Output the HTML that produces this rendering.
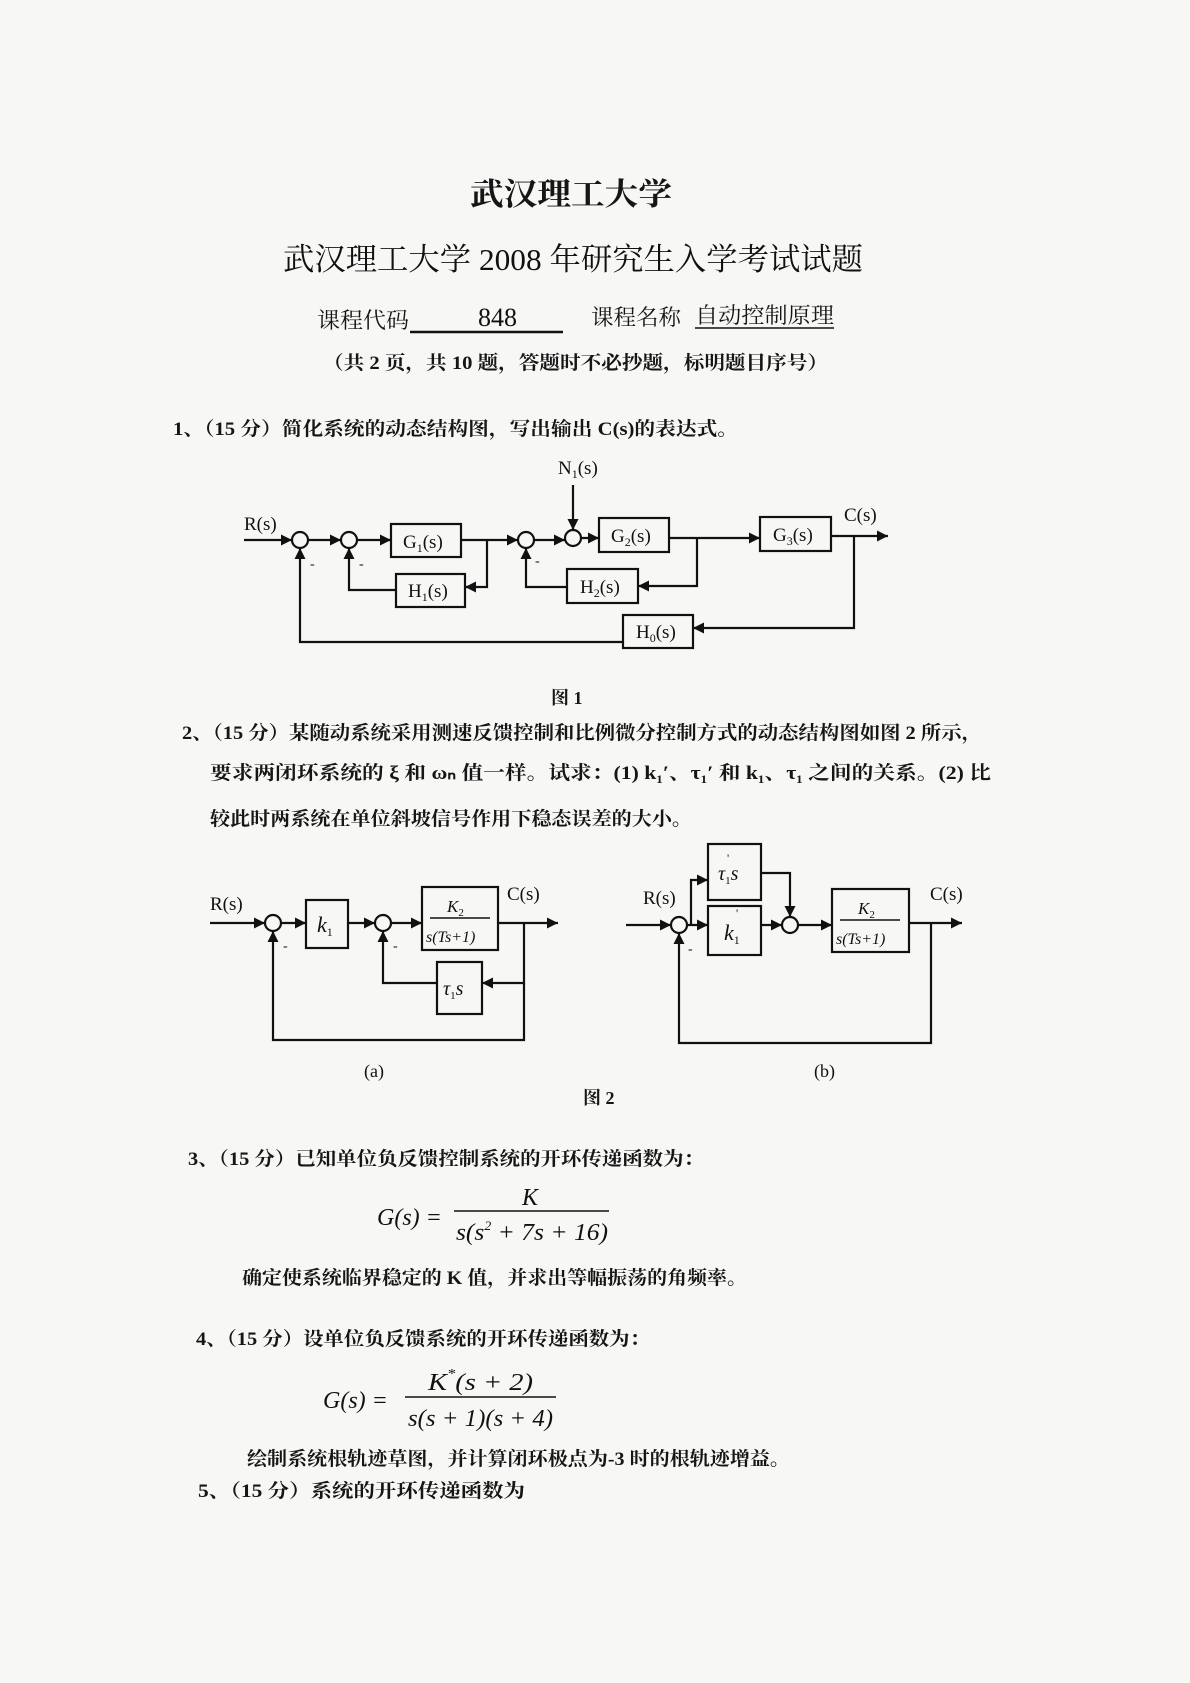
<!DOCTYPE html>
<html><head><meta charset="utf-8">
<style>
html,body{margin:0;padding:0;background:#f7f7f5;}
svg{display:block}
.cn{font-family:"Liberation Serif","Noto Serif CJK SC",serif;font-weight:bold;fill:#161616}
.lt{font-family:"Liberation Serif",serif;fill:#111}
.it{font-family:"Liberation Serif",serif;font-style:italic;fill:#111}
</style></head>
<body>
<svg width="1190" height="1683" viewBox="0 0 1190 1683" xmlns="http://www.w3.org/2000/svg">
<defs>
<marker id="a" viewBox="0 0 10 10" refX="10" refY="5" markerWidth="11" markerHeight="11" markerUnits="userSpaceOnUse" orient="auto">
<path d="M0,0 L10,5 L0,10 z" fill="#111"/></marker>
</defs>
<rect width="1190" height="1683" fill="#f7f7f5"/>

<!-- header -->
<text class="cn" x="470" y="205" font-size="31" textLength="202" lengthAdjust="spacingAndGlyphs">武汉理工大学</text>
<text class="cn" x="283" y="270" font-size="31" textLength="580" lengthAdjust="spacingAndGlyphs" style="font-weight:normal;fill:#111">武汉理工大学 2008 年研究生入学考试试题</text>
<text class="cn" x="317" y="328" font-size="22" textLength="92" lengthAdjust="spacingAndGlyphs" style="font-weight:normal">课程代码</text>
<line x1="410" y1="332" x2="563" y2="332" stroke="#111" stroke-width="2.5"/>
<text class="lt" x="478" y="326" font-size="26">848</text>
<text class="cn" x="591" y="325" font-size="22" textLength="90" lengthAdjust="spacingAndGlyphs" style="font-weight:normal">课程名称</text>
<text class="cn" x="695" y="323" font-size="22" textLength="139" lengthAdjust="spacingAndGlyphs" style="font-weight:normal">自动控制原理</text>
<line x1="695" y1="328" x2="834" y2="328" stroke="#111" stroke-width="1.5"/>
<text class="cn" x="323" y="369" font-size="19" textLength="505" lengthAdjust="spacingAndGlyphs">（共 2 页，共 10 题，答题时不必抄题，标明题目序号）</text>

<!-- Q1 -->
<text class="cn" x="173" y="435" font-size="19" textLength="565" lengthAdjust="spacingAndGlyphs">1、（15 分）简化系统的动态结构图，写出输出 C(s)的表达式。</text>

<!-- Figure 1 -->
<g stroke="#111" stroke-width="2.2" fill="none">
<line x1="244" y1="540" x2="292" y2="540" marker-end="url(#a)"/>
<circle cx="300" cy="540" r="8"/>
<line x1="308" y1="540" x2="341" y2="540" marker-end="url(#a)"/>
<circle cx="349" cy="540" r="8"/>
<line x1="357" y1="540" x2="391" y2="540" marker-end="url(#a)"/>
<rect x="391" y="524" width="70" height="33"/>
<line x1="461" y1="540" x2="518" y2="540" marker-end="url(#a)"/>
<circle cx="526" cy="540" r="8"/>
<line x1="534" y1="540" x2="565" y2="540" marker-end="url(#a)"/>
<circle cx="573" cy="538" r="8"/>
<line x1="581" y1="538" x2="599" y2="538" marker-end="url(#a)"/>
<rect x="599" y="518" width="70" height="34"/>
<line x1="669" y1="538" x2="760" y2="538" marker-end="url(#a)"/>
<rect x="760" y="517" width="71" height="34"/>
<line x1="831" y1="536" x2="888" y2="536" marker-end="url(#a)"/>
<line x1="573" y1="485" x2="573" y2="530" marker-end="url(#a)"/>
<polyline points="487,540 487,587 465,587" marker-end="url(#a)"/>
<rect x="396" y="574" width="69" height="33"/>
<polyline points="396,590 349,590 349,548" marker-end="url(#a)"/>
<polyline points="697,538 697,586 638,586" marker-end="url(#a)"/>
<rect x="567" y="569" width="71" height="34"/>
<polyline points="567,587 526,587 526,548" marker-end="url(#a)"/>
<polyline points="854,536 854,628 693,628" marker-end="url(#a)"/>
<rect x="623" y="615" width="70" height="33"/>
<polyline points="623,642 300,642 300,548" marker-end="url(#a)"/>
</g>
<g class="lt" font-size="19">
<text x="244" y="530">R(s)</text>
<text x="844" y="521">C(s)</text>
<text x="558" y="474">N<tspan font-size="12" dy="4">1</tspan><tspan dy="-4">(s)</tspan></text>
<text x="403" y="548">G<tspan font-size="12" dy="4">1</tspan><tspan dy="-4">(s)</tspan></text>
<text x="611" y="542">G<tspan font-size="12" dy="4">2</tspan><tspan dy="-4">(s)</tspan></text>
<text x="773" y="541">G<tspan font-size="12" dy="4">3</tspan><tspan dy="-4">(s)</tspan></text>
<text x="408" y="597">H<tspan font-size="12" dy="4">1</tspan><tspan dy="-4">(s)</tspan></text>
<text x="580" y="593">H<tspan font-size="12" dy="4">2</tspan><tspan dy="-4">(s)</tspan></text>
<text x="636" y="638">H<tspan font-size="12" dy="4">0</tspan><tspan dy="-4">(s)</tspan></text>
<text x="310" y="568" font-size="14">-</text>
<text x="359" y="568" font-size="14">-</text>
<text x="535" y="565" font-size="14">-</text>
</g>
<text class="cn" x="551" y="704" font-size="18">图 1</text>

<!-- Q2 -->
<text class="cn" x="182" y="739" font-size="19" textLength="800" lengthAdjust="spacingAndGlyphs">2、（15 分）某随动系统采用测速反馈控制和比例微分控制方式的动态结构图如图 2 所示，</text>
<text class="cn" x="210" y="779" font-size="19" textLength="781" lengthAdjust="spacingAndGlyphs">要求两闭环系统的 ξ 和 ωₙ 值一样。试求：(1) k₁′、τ₁′ 和 k₁、τ₁ 之间的关系。(2) 比</text>
<text class="cn" x="210" y="825" font-size="19" textLength="482" lengthAdjust="spacingAndGlyphs">较此时两系统在单位斜坡信号作用下稳态误差的大小。</text>

<!-- Figure 2a -->
<g stroke="#111" stroke-width="2.2" fill="none">
<line x1="210" y1="923" x2="265" y2="923" marker-end="url(#a)"/>
<circle cx="273" cy="923" r="8"/>
<line x1="281" y1="923" x2="306" y2="923" marker-end="url(#a)"/>
<rect x="306" y="900" width="42" height="48"/>
<line x1="348" y1="923" x2="375" y2="923" marker-end="url(#a)"/>
<circle cx="383" cy="923" r="8"/>
<line x1="391" y1="923" x2="422" y2="923" marker-end="url(#a)"/>
<rect x="422" y="887" width="76" height="63"/>
<line x1="430" y1="918" x2="490" y2="918" stroke-width="1.5"/>
<line x1="498" y1="923" x2="558" y2="923" marker-end="url(#a)"/>
<polyline points="524,923 524,983 482,983" marker-end="url(#a)"/>
<rect x="437" y="962" width="45" height="52"/>
<polyline points="437,983 383,983 383,931" marker-end="url(#a)"/>
<polyline points="524,983 524,1040 273,1040 273,931" marker-end="url(#a)"/>
</g>
<g font-size="19">
<text class="lt" x="210" y="910">R(s)</text>
<text class="lt" x="507" y="900">C(s)</text>
<text class="it" x="317" y="932" font-size="22">k<tspan font-size="12" dy="4" font-style="normal">1</tspan></text>
<text class="it" x="447" y="912" font-size="17">K<tspan font-size="11" dy="4" font-style="normal">2</tspan></text>
<text class="it" x="426" y="942" font-size="16">s(Ts+1)</text>
<text class="it" x="443" y="995" font-size="20">τ<tspan font-size="11" dy="4" font-style="normal">1</tspan><tspan dy="-4">s</tspan></text>
<text class="lt" x="283" y="950" font-size="14">-</text>
<text class="lt" x="393" y="950" font-size="14">-</text>
<text class="lt" x="364" y="1077" font-size="18">(a)</text>
</g>

<!-- Figure 2b -->
<g stroke="#111" stroke-width="2.2" fill="none">
<line x1="626" y1="925" x2="671" y2="925" marker-end="url(#a)"/>
<circle cx="679" cy="925" r="8"/>
<line x1="687" y1="925" x2="708" y2="925" marker-end="url(#a)"/>
<polyline points="691,925 691,880 708,880" marker-end="url(#a)"/>
<rect x="708" y="844" width="53" height="56"/>
<rect x="708" y="906" width="53" height="49"/>
<line x1="761" y1="925" x2="782" y2="925" marker-end="url(#a)"/>
<polyline points="761,873 790,873 790,917" marker-end="url(#a)"/>
<circle cx="790" cy="925" r="8"/>
<line x1="798" y1="925" x2="832" y2="925" marker-end="url(#a)"/>
<rect x="832" y="889" width="77" height="63"/>
<line x1="840" y1="920" x2="900" y2="920" stroke-width="1.5"/>
<line x1="909" y1="923" x2="962" y2="923" marker-end="url(#a)"/>
<polyline points="931,923 931,1043 679,1043 679,933" marker-end="url(#a)"/>
</g>
<g font-size="19">
<text class="lt" x="643" y="904">R(s)</text>
<text class="lt" x="930" y="900">C(s)</text>
<text class="it" x="718" y="880" font-size="20">τ<tspan font-size="11" dy="4" font-style="normal">1</tspan><tspan dy="-4">s</tspan></text>
<text class="lt" x="727" y="862" font-size="12">'</text>
<text class="it" x="724" y="940" font-size="22">k<tspan font-size="12" dy="4" font-style="normal">1</tspan></text>
<text class="lt" x="736" y="917" font-size="12">'</text>
<text class="it" x="858" y="914" font-size="17">K<tspan font-size="11" dy="4" font-style="normal">2</tspan></text>
<text class="it" x="836" y="944" font-size="16">s(Ts+1)</text>
<text class="lt" x="688" y="953" font-size="14">-</text>
<text class="lt" x="814" y="1077" font-size="18">(b)</text>
</g>
<text class="cn" x="583" y="1104" font-size="18">图 2</text>

<!-- Q3 -->
<text class="cn" x="188" y="1165" font-size="19" textLength="516" lengthAdjust="spacingAndGlyphs">3、（15 分）已知单位负反馈控制系统的开环传递函数为：</text>
<text class="it" x="377" y="1225" font-size="24">G(s) =</text>
<text class="it" x="522" y="1205" font-size="24">K</text>
<line x1="454" y1="1211" x2="609" y2="1211" stroke="#111" stroke-width="1.6"/>
<text class="it" x="456" y="1240" font-size="24" textLength="152" lengthAdjust="spacingAndGlyphs">s(s<tspan font-size="13" dy="-10">2</tspan><tspan dy="10"> + 7s + 16)</tspan></text>
<text class="cn" x="242" y="1284" font-size="19" textLength="505" lengthAdjust="spacingAndGlyphs">确定使系统临界稳定的 K 值，并求出等幅振荡的角频率。</text>

<!-- Q4 -->
<text class="cn" x="196" y="1345" font-size="19" textLength="454" lengthAdjust="spacingAndGlyphs">4、（15 分）设单位负反馈系统的开环传递函数为：</text>
<text class="it" x="323" y="1408" font-size="24">G(s) =</text>
<text class="it" x="428" y="1390" font-size="24" textLength="105" lengthAdjust="spacingAndGlyphs">K<tspan font-size="14" dy="-12">*</tspan><tspan dy="12">(s + 2)</tspan></text>
<line x1="405" y1="1397" x2="556" y2="1397" stroke="#111" stroke-width="1.6"/>
<text class="it" x="408" y="1426" font-size="24" textLength="145" lengthAdjust="spacingAndGlyphs">s(s + 1)(s + 4)</text>
<text class="cn" x="247" y="1465" font-size="19" textLength="543" lengthAdjust="spacingAndGlyphs">绘制系统根轨迹草图，并计算闭环极点为-3 时的根轨迹增益。</text>

<!-- Q5 -->
<text class="cn" x="198" y="1497" font-size="19" textLength="327" lengthAdjust="spacingAndGlyphs">5、（15 分）系统的开环传递函数为</text>
</svg>
</body></html>
